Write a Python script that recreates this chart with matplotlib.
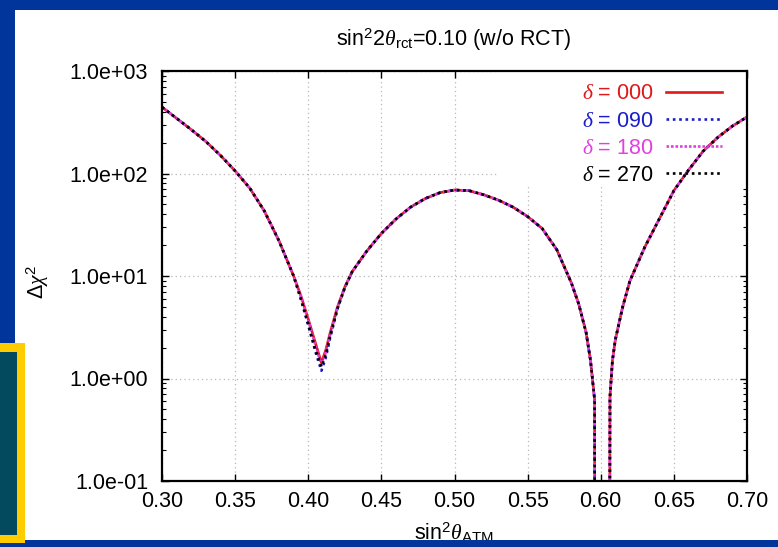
import matplotlib
matplotlib.use("Agg")
import matplotlib.pyplot as plt
from matplotlib.patches import Rectangle
from matplotlib.ticker import FuncFormatter, LogLocator, NullFormatter

plt.rcParams['font.family'] = ['Liberation Sans', 'DejaVu Sans']
plt.rcParams['mathtext.fontset'] = 'custom'
plt.rcParams['mathtext.rm'] = 'Liberation Sans'
plt.rcParams['mathtext.sf'] = 'Liberation Sans'
plt.rcParams['mathtext.it'] = 'Liberation Serif:italic'

# sin^2 theta_ATM grid
sin2_atm = [0.300, 0.310, 0.320, 0.330, 0.340, 0.350, 0.360, 0.370, 0.380, 0.390,
            0.395, 0.400, 0.405, 0.409, 0.412, 0.415, 0.420, 0.425, 0.430, 0.440,
            0.450, 0.460, 0.470, 0.480, 0.490, 0.500, 0.510, 0.520, 0.530, 0.540,
            0.550, 0.560, 0.570, 0.580, 0.585, 0.590, 0.593, 0.5958, 0.5960, 0.6060,
            0.6063, 0.608, 0.610, 0.615, 0.620, 0.630, 0.640, 0.650, 0.660, 0.670,
            0.680, 0.690, 0.700]

# delta chi^2 for each delta_CP
chi2_000 = [445, 345, 268, 205, 150, 106, 72, 43, 22, 10,
            6.4, 3.8, 2.2, 1.42, 1.9, 2.8, 5.0, 7.8, 11, 17.5,
            26, 36, 47, 57, 65, 69, 68, 62, 55, 47,
            38, 29, 18, 8.5, 5.3, 2.8, 1.5, 0.62, 1e-3, 1e-3,
            0.66, 1.5, 2.4, 5, 9, 19, 36, 68, 108, 165,
            225, 290, 356]
chi2_090 = [445, 345, 268, 205, 150, 106, 72, 43, 22, 10,
            5.9, 3.3, 1.8, 1.19, 1.6, 2.5, 4.8, 7.7, 11, 17.5,
            26, 36, 47, 57, 65, 69, 68, 62, 55, 47,
            38, 29, 18, 8.5, 5.3, 2.8, 1.5, 0.62, 1e-3, 1e-3,
            0.66, 1.5, 2.4, 5, 9, 19, 36, 68, 108, 165,
            225, 290, 356]
chi2_180 = [445, 345, 268, 205, 150, 106, 72, 43, 22, 10,
            6.3, 3.7, 2.1, 1.35, 1.8, 2.7, 4.9, 7.8, 11, 17.5,
            26, 36, 47, 57, 65, 69, 68, 62, 55, 47,
            38, 29, 18, 8.5, 5.3, 2.8, 1.5, 0.62, 1e-3, 1e-3,
            0.66, 1.5, 2.4, 5, 9, 19, 36, 68, 108, 165,
            225, 290, 356]
chi2_270 = [445, 345, 268, 205, 150, 106, 72, 43, 22, 10,
            6.0, 3.4, 1.9, 1.3, 1.7, 2.6, 4.8, 7.7, 11, 17.5,
            26, 36, 47, 57, 65, 69, 68, 62, 55, 47,
            38, 29, 18, 8.5, 5.3, 2.8, 1.5, 0.62, 1e-3, 1e-3,
            0.66, 1.5, 2.4, 5, 9, 19, 36, 68, 108, 165,
            225, 290, 356]

x_ticks = [0.30, 0.35, 0.40, 0.45, 0.50, 0.55, 0.60, 0.65, 0.70]
y_ticks = [0.1, 1, 10, 100, 1000]

W, H = 778, 547
fig = plt.figure(figsize=(W / 100, H / 100), dpi=100)
fig.patch.set_facecolor('white')


def px_rect(x0, y0, x1, y1, color, z=10):
    # rectangle given in pixel coords from top-left
    fig.add_artist(Rectangle((x0 / W, 1 - y1 / H), (x1 - x0) / W, (y1 - y0) / H,
                             transform=fig.transFigure, facecolor=color,
                             edgecolor='none', zorder=z))


blue_bg = '#02359c'
px_rect(0, 0, W, 10, blue_bg)
px_rect(0, 0, 15, 343, blue_bg)
px_rect(0, 540, W, H, blue_bg)
px_rect(0, 343, 25, 543, '#ffcc00', z=11)
px_rect(0, 352, 17, 535, '#034a5e', z=12)

ax = fig.add_axes([162 / W, 1 - 481 / H, (747 - 162) / W, (481 - 71) / H])
ax.set_yscale('log')
ax.set_xlim(0.30, 0.70)
ax.set_ylim(0.1, 1000)

ax.plot(sin2_atm, chi2_000, color='#e01818', lw=1.9, label=r'$\delta$ = 000')
ax.plot(sin2_atm, chi2_090, color='#1c1cc8', lw=1.9, ls=(0, (1, 1.4)),
        label=r'$\delta$ = 090')
ax.plot(sin2_atm, chi2_180, color='#e040e0', lw=1.9, ls=(0, (1, 0.7)),
        label=r'$\delta$ = 180')
ax.plot(sin2_atm, chi2_270, color='black', lw=1.9, ls=(0, (1, 1.4)),
        label=r'$\delta$ = 270')

# key area hides the grid
ax.add_patch(Rectangle((0.573, 0.717), 0.43, 0.29, transform=ax.transAxes,
                       facecolor='white', edgecolor='none', zorder=1))

ax.set_axisbelow(True)
ax.grid(True, which='major', color='#b8b8b8', ls=(0, (1, 2.5)), lw=0.9)

ax.set_xticks(x_ticks)
ax.xaxis.set_major_formatter(FuncFormatter(lambda v, p: '%.2f' % v))
ax.set_yticks(y_ticks)
ax.yaxis.set_major_formatter(FuncFormatter(lambda v, p: '%.1e' % v))
ax.yaxis.set_minor_locator(LogLocator(base=10, subs=range(2, 10)))
ax.yaxis.set_minor_formatter(NullFormatter())
ax.tick_params(which='both', direction='in', top=True, right=True, labelsize=15.5)
ax.tick_params(which='major', length=5, width=1)
ax.tick_params(which='minor', length=3, width=0.8)
ax.tick_params(axis='y', pad=10)
ax.tick_params(axis='x', pad=7)
for s in ax.spines.values():
    s.set_linewidth(1.6)

leg = ax.legend(loc='upper right', bbox_to_anchor=(0.957, 0.97), frameon=False,
                markerfirst=False, labelcolor='linecolor', fontsize=15.5,
                handlelength=2.6, handletextpad=0.55, labelspacing=0.29,
                borderpad=0, borderaxespad=0)
leg.set_zorder(5)

fig.text(454 / W, 1 - 40 / H, r'sin$^2$2$\theta_{\rm rct}$=0.10 (w/o RCT)',
         ha='center', va='center', fontsize=15.5)
fig.text(454 / W, 1 - 533 / H, r'sin$^2\theta_{\rm ATM}$', ha='center',
         va='center', fontsize=15.5)
fig.text(38 / W, 1 - 282 / H, r'$\mathit{\Delta}\chi^2$', ha='center', va='center',
         rotation=90, fontsize=15.5)

fig.savefig('out.png', dpi=100)
